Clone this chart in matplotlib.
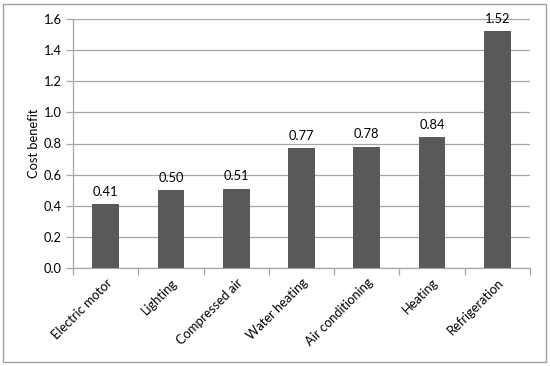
import matplotlib
matplotlib.use('Agg')
import matplotlib.pyplot as plt
from matplotlib.patches import Rectangle

# ─── Data ────────────────────────────────────────────────────────────────────
categories = ['Electric motor', 'Lighting', 'Compressed air', 'Water heating',
              'Air conditioning', 'Heating', 'Refrigeration']
values = [0.41, 0.50, 0.51, 0.77, 0.78, 0.84, 1.52]
yticks = [0.0, 0.2, 0.4, 0.6, 0.8, 1.0, 1.2, 1.4, 1.6]

BAR = '#595959'
GRID = '#A6A6A6'
TEXT = '#000000'
FS = 9.3

plt.rcParams['font.family'] = ['Lato', 'DejaVu Sans']
plt.rcParams['font.size'] = FS

fig = plt.figure(figsize=(5.5, 3.66), dpi=100)
ax = fig.add_axes([73 / 550, 1 - 268 / 366, (530 - 73) / 550, (268 - 19) / 366])

# outer chart border
fig.patches.append(Rectangle((3 / 550, 4 / 366), 543 / 550, 358 / 366,
                             transform=fig.transFigure, fill=False,
                             edgecolor='#A0A0A0', linewidth=1.0))

x = list(range(len(categories)))
ax.bar(x, values, width=0.41, color=BAR, zorder=3)
for xi, v in zip(x, values):
    ax.text(xi, v + 0.04, f'{v:.2f}', ha='center', va='bottom',
            fontsize=FS, color=TEXT, zorder=4)

ax.set_xlim(-0.5, len(categories) - 0.5)
ax.set_ylim(0, 1.6)
ax.set_yticks(yticks)
ax.set_yticklabels([f'{t:.1f}' for t in yticks])
ax.yaxis.grid(True, color=GRID, linewidth=0.9, zorder=0)
ax.set_axisbelow(True)

# category boundary ticks on x axis
ax.set_xticks([i + 0.5 for i in range(-1, len(categories))], minor=False)
ax.set_xticklabels([])
ax.set_xticks(x, minor=True)
ax.set_xticklabels(categories, minor=True, rotation=45, ha='right',
                   rotation_mode='anchor')
ax.tick_params(axis='x', which='minor', length=0, pad=6)
ax.tick_params(axis='x', which='major', length=5, color=GRID, width=0.9)
ax.tick_params(axis='y', length=5, color=GRID, width=0.9, pad=3)

for s in ['top', 'right']:
    ax.spines[s].set_visible(False)
for s in ['left', 'bottom']:
    ax.spines[s].set_color(GRID)
    ax.spines[s].set_linewidth(0.9)

ax.set_ylabel('Cost benefit', fontsize=FS, labelpad=3)

fig.savefig('out.png', dpi=100)
